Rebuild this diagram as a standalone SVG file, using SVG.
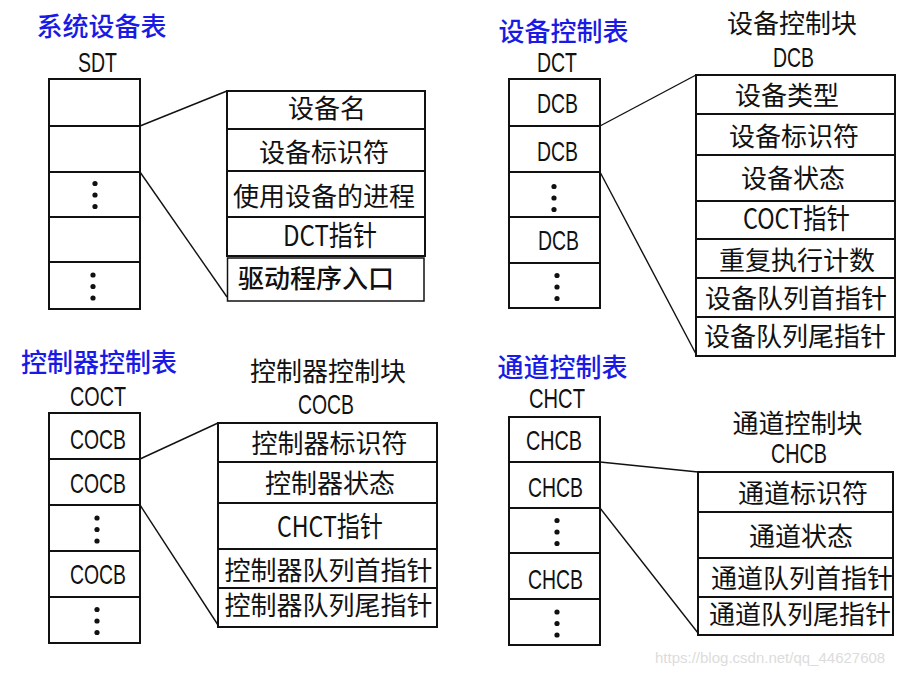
<svg xmlns="http://www.w3.org/2000/svg" width="908" height="674" viewBox="0 0 908 674">
<style>
.box{fill:#fff;stroke:#111;stroke-width:2}
.sep{stroke:#111;stroke-width:2}
.con{stroke:#111;stroke-width:1.4;fill:none}
.t{font-family:"Noto Sans CJK SC","Noto Sans",sans-serif;font-size:26px;fill:#111;text-anchor:middle}
.tl{font-family:"Noto Sans CJK SC","Noto Sans",sans-serif;font-size:26px;fill:#111}
.mx{font-family:"Noto Sans CJK SC","Noto Sans",sans-serif;font-size:28px;fill:#111}
.ti{font-family:"Noto Sans CJK SC","Noto Sans",sans-serif;font-size:26px;fill:#1a1ae6;text-anchor:middle;font-weight:500}
.lat{font-family:"Liberation Sans",Arial,sans-serif;font-size:28px;fill:#111}
.dot{fill:#111}
.wm{font-family:"Liberation Sans",Arial,sans-serif;font-size:15px;fill:#dcdcdc}
</style>
<defs>
<g id="vdots"><circle cx="0" cy="-11.5" r="2.6"/><circle cx="0" cy="0" r="2.6"/><circle cx="0" cy="11.5" r="2.6"/></g>
</defs>

<!-- Titles -->
<g id="titles">
<text class="ti" x="101.5" y="35.5">系统设备表</text>
<text class="ti" x="563.5" y="41">设备控制表</text>
<text class="ti" x="99" y="372">控制器控制表</text>
<text class="ti" x="562.5" y="377">通道控制表</text>
</g>

<!-- Connectors -->
<g id="connectors">
<line class="con" x1="140" y1="126" x2="227" y2="91"/>
<line class="con" x1="140" y1="172" x2="227" y2="297"/>
<line class="con" x1="600" y1="126" x2="696" y2="75"/>
<line class="con" x1="600" y1="172" x2="696" y2="354"/>
<line class="con" x1="140" y1="459" x2="218" y2="423"/>
<line class="con" x1="140" y1="505" x2="218" y2="625"/>
<line class="con" x1="600" y1="462" x2="698" y2="472"/>
<line class="con" x1="600" y1="508" x2="698" y2="633"/>
</g>

<!-- SDT -->
<g id="sdt">
<text class="lat" x="78" y="72" textLength="39" lengthAdjust="spacingAndGlyphs">SDT</text>
<rect class="box" x="49" y="79" width="91" height="230"/>
<line class="sep" x1="49" y1="126" x2="140" y2="126"/>
<line class="sep" x1="49" y1="172" x2="140" y2="172"/>
<line class="sep" x1="49" y1="217" x2="140" y2="217"/>
<line class="sep" x1="49" y1="262" x2="140" y2="262"/>
<use href="#vdots" class="dot" x="95" y="195"/>
<use href="#vdots" class="dot" x="93" y="286.5"/>
</g>

<!-- SDT entry -->
<g id="sdt-entry">
<rect class="box" x="227" y="91" width="198" height="165"/>
<line class="sep" x1="227" y1="129" x2="425" y2="129"/>
<line class="sep" x1="227" y1="171" x2="425" y2="171"/>
<line class="sep" x1="227" y1="217" x2="425" y2="217"/>
<text class="t" x="327" y="118">设备名</text>
<text class="t" x="324" y="162">设备标识符</text>
<text class="t" x="324" y="205.5">使用设备的进程</text>
<text class="mx" x="283" y="246" textLength="94" lengthAdjust="spacingAndGlyphs">DCT指针</text>
<rect x="227.5" y="258" width="196.5" height="43" fill="#fff" stroke="#111" stroke-width="1.5"/>
<text class="tl" x="238" y="288" style="font-weight:500">驱动程序入口</text>
</g>

<!-- DCT -->
<g id="dct">
<text class="lat" x="537" y="72" textLength="40" lengthAdjust="spacingAndGlyphs">DCT</text>
<rect class="box" x="509" y="79" width="91" height="229"/>
<line class="sep" x1="509" y1="126" x2="600" y2="126"/>
<line class="sep" x1="509" y1="172" x2="600" y2="172"/>
<line class="sep" x1="509" y1="217" x2="600" y2="217"/>
<line class="sep" x1="509" y1="263" x2="600" y2="263"/>
<text class="lat" x="537" y="113" textLength="41" lengthAdjust="spacingAndGlyphs">DCB</text>
<text class="lat" x="537" y="161" textLength="41" lengthAdjust="spacingAndGlyphs">DCB</text>
<use href="#vdots" class="dot" x="554" y="198"/>
<text class="lat" x="538" y="250" textLength="41" lengthAdjust="spacingAndGlyphs">DCB</text>
<use href="#vdots" class="dot" x="557" y="287"/>
</g>

<!-- DCB -->
<g id="dcb">
<text class="t" x="792" y="33">设备控制块</text>
<text class="lat" x="773" y="67" textLength="41" lengthAdjust="spacingAndGlyphs">DCB</text>
<rect class="box" x="696" y="75" width="199" height="281"/>
<line class="sep" x1="696" y1="114" x2="895" y2="114"/>
<line class="sep" x1="696" y1="155" x2="895" y2="155"/>
<line class="sep" x1="696" y1="201" x2="895" y2="201"/>
<line class="sep" x1="696" y1="239" x2="895" y2="239"/>
<line class="sep" x1="696" y1="278" x2="895" y2="278"/>
<line class="sep" x1="696" y1="317" x2="895" y2="317"/>
<text class="t" x="787" y="104.5">设备类型</text>
<text class="t" x="794" y="145.5">设备标识符</text>
<text class="t" x="793" y="188">设备状态</text>
<text class="mx" x="743" y="229" textLength="107" lengthAdjust="spacingAndGlyphs">COCT指针</text>
<text class="t" x="797" y="269.5">重复执行计数</text>
<text class="t" x="796" y="308">设备队列首指针</text>
<text class="t" x="795" y="346">设备队列尾指针</text>
</g>

<!-- COCT -->
<g id="coct">
<text class="lat" x="70" y="406" textLength="56" lengthAdjust="spacingAndGlyphs">COCT</text>
<rect class="box" x="49" y="413" width="91" height="230"/>
<line class="sep" x1="49" y1="459" x2="140" y2="459"/>
<line class="sep" x1="49" y1="505" x2="140" y2="505"/>
<line class="sep" x1="49" y1="551" x2="140" y2="551"/>
<line class="sep" x1="49" y1="597" x2="140" y2="597"/>
<text class="lat" x="70" y="449" textLength="56" lengthAdjust="spacingAndGlyphs">COCB</text>
<text class="lat" x="70" y="493" textLength="56" lengthAdjust="spacingAndGlyphs">COCB</text>
<use href="#vdots" class="dot" x="97" y="529.5"/>
<text class="lat" x="70" y="584" textLength="56" lengthAdjust="spacingAndGlyphs">COCB</text>
<use href="#vdots" class="dot" x="97" y="621"/>
</g>

<!-- COCB -->
<g id="cocb">
<text class="t" x="328" y="381">控制器控制块</text>
<text class="lat" x="298" y="414" textLength="56" lengthAdjust="spacingAndGlyphs">COCB</text>
<rect class="box" x="218" y="423" width="219" height="204"/>
<line class="sep" x1="218" y1="462" x2="437" y2="462"/>
<line class="sep" x1="218" y1="503" x2="437" y2="503"/>
<line class="sep" x1="218" y1="549" x2="437" y2="549"/>
<line class="sep" x1="218" y1="588" x2="437" y2="588"/>
<text class="t" x="329.5" y="453">控制器标识符</text>
<text class="t" x="330" y="492.5">控制器状态</text>
<text class="mx" x="277" y="537" textLength="106" lengthAdjust="spacingAndGlyphs">CHCT指针</text>
<text class="t" x="328.5" y="579.5">控制器队列首指针</text>
<text class="t" x="328.5" y="615">控制器队列尾指针</text>
</g>

<!-- CHCT -->
<g id="chct">
<text class="lat" x="529" y="408" textLength="56" lengthAdjust="spacingAndGlyphs">CHCT</text>
<rect class="box" x="509" y="417" width="91" height="228"/>
<line class="sep" x1="509" y1="462" x2="600" y2="462"/>
<line class="sep" x1="509" y1="508" x2="600" y2="508"/>
<line class="sep" x1="509" y1="553" x2="600" y2="553"/>
<line class="sep" x1="509" y1="599" x2="600" y2="599"/>
<text class="lat" x="526" y="450" textLength="56" lengthAdjust="spacingAndGlyphs">CHCB</text>
<text class="lat" x="528" y="497" textLength="55" lengthAdjust="spacingAndGlyphs">CHCB</text>
<use href="#vdots" class="dot" x="557" y="532"/>
<text class="lat" x="528" y="589" textLength="55" lengthAdjust="spacingAndGlyphs">CHCB</text>
<use href="#vdots" class="dot" x="557" y="623.5"/>
</g>

<!-- CHCB -->
<g id="chcb">
<text class="t" x="797.5" y="433">通道控制块</text>
<text class="lat" x="771" y="463" textLength="56" lengthAdjust="spacingAndGlyphs">CHCB</text>
<rect class="box" x="698" y="472" width="195" height="163"/>
<line class="sep" x1="698" y1="512" x2="893" y2="512"/>
<line class="sep" x1="698" y1="558" x2="893" y2="558"/>
<line class="sep" x1="698" y1="597" x2="893" y2="597"/>
<text class="t" x="803" y="503">通道标识符</text>
<text class="t" x="801" y="546">通道状态</text>
<text class="t" x="802" y="588">通道队列首指针</text>
<text class="t" x="800" y="624">通道队列尾指针</text>
</g>

<text class="wm" x="655" y="663">https://blog.csdn.net/qq_44627608</text>
</svg>
